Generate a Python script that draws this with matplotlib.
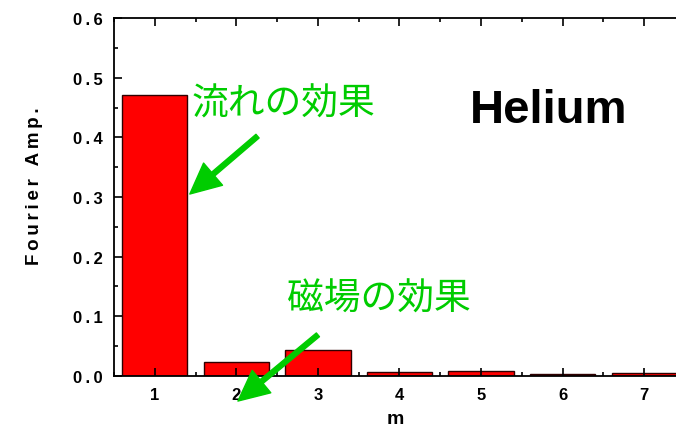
import matplotlib.pyplot as plt
from matplotlib.ticker import MultipleLocator, FuncFormatter

# Fourier amplitudes for mode m (Helium)
m = [1, 2, 3, 4, 5, 6, 7]
amp = [0.471, 0.023, 0.044, 0.006, 0.009, 0.003, 0.0045]

green = '#00cc00'
jp_font = ['Noto Sans CJK JP', 'DejaVu Sans']


def spaced(s):
    # the original uses loose letter spacing
    return '\u2009'.join(s)


plt.rcParams['font.family'] = ['Liberation Sans', 'DejaVu Sans']
plt.rcParams['font.weight'] = 'bold'

fig = plt.figure(figsize=(6.76, 4.31), dpi=100)
ax = fig.add_axes([0.1686, 0.1253, 1 - 0.1686, 0.9559 - 0.1253])

ax.bar(m, amp, width=0.8, color='#ff0000', edgecolor='#300000', linewidth=1.0)

ax.set_xlim(0.5, 7.39)
ax.set_ylim(0, 0.6)
ax.xaxis.set_major_locator(MultipleLocator(1))
ax.xaxis.set_minor_locator(MultipleLocator(0.5))
ax.yaxis.set_major_locator(MultipleLocator(0.1))
ax.yaxis.set_minor_locator(MultipleLocator(0.05))
ax.yaxis.set_major_formatter(FuncFormatter(lambda v, p: spaced('%.1f' % v)))

ax.tick_params(which='both', direction='in', top=True, right=False, width=1.2)
ax.tick_params(which='major', length=6, labelsize=12, pad=8)
ax.tick_params(which='minor', length=3)
for lbl in ax.get_xticklabels() + ax.get_yticklabels():
    lbl.set_fontweight('bold')

for s in ['left', 'bottom', 'top']:
    ax.spines[s].set_linewidth(1.3)
ax.spines['right'].set_visible(False)

ax.set_xlabel('m', fontsize=14, fontweight='bold', labelpad=6)
ax.set_ylabel(spaced('Fourier Amp.'), fontsize=13.5, fontweight='bold')
ax.yaxis.set_label_coords(-0.127, 0.532)

ax.text(5.83, 0.445, 'Helium', fontsize=34, fontweight='bold', ha='center', va='center')

ax.text(1.45, 0.458, '流れの効果', fontsize=26.5, color=green, family=jp_font,
        fontweight='normal', ha='left', va='center')
ax.text(2.62, 0.131, '磁場の効果', fontsize=26.5, color=green, family=jp_font,
        fontweight='normal', ha='left', va='center')

arrow = dict(facecolor=green, edgecolor=green, width=3.5, headwidth=21, headlength=22, shrink=0)
ax.annotate('', xy=(1.43, 0.305), xytext=(2.26, 0.402), arrowprops=arrow)
ax.annotate('', xy=(2.02, -0.042), xytext=(3.0, 0.069), arrowprops=arrow,
            annotation_clip=False)

fig.savefig('out.png', dpi=100)
